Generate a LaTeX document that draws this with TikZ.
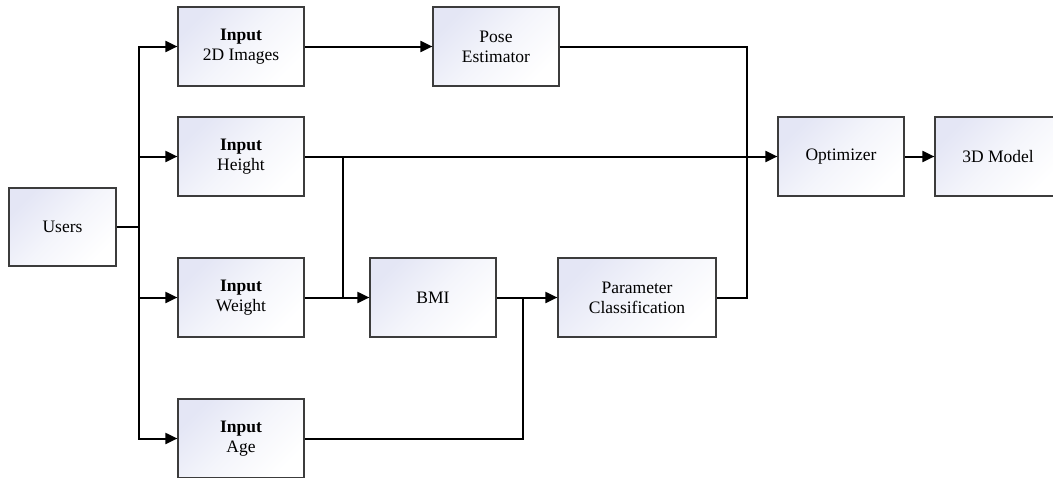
\documentclass[tikz,border=0pt]{standalone}
\usepackage{fontspec}
\setmainfont{Liberation Serif}
\newfontfamily\boxfont{Liberation Serif}
\usetikzlibrary{arrows.meta}
\definecolor{topc}{RGB}{228,230,245}
\definecolor{midc}{RGB}{244,245,251}
\definecolor{edgec}{RGB}{60,60,60}
\tikzset{
  box/.style={draw=edgec, line width=1.2pt, inner sep=0pt, align=center,
    minimum width=126pt, minimum height=79pt,
    top color=topc, bottom color=white, middle color=midc, shading angle=45,
    font=\boxfont\fontsize{17.5}{20}\selectfont},
  conn/.style={line width=2pt, black},
  arr/.style={conn, -{Triangle[length=12pt,width=11pt]}}
}
\begin{document}
\begin{tikzpicture}[x=1pt,y=-1pt]
\useasboundingbox (0,0) rectangle (1053,477);
\clip (0,0) rectangle (1053,477);
\node[box, minimum width=107pt, minimum height=78pt] (users) at (62.5,227) {Users};
\node[box] (img) at (241,46.5) {\textbf{Input}\\2D Images};
\node[box] (height) at (241,156.5) {\textbf{Input}\\Height};
\node[box] (weight) at (241,297.5) {\textbf{Input}\\Weight};
\node[box] (age) at (241,438.5) {\textbf{Input}\\Age};
\node[box] (pose) at (496,46.5) {Pose\\Estimator};
\node[box] (bmi) at (433,297.5) {BMI};
\node[box, minimum width=158pt] (param) at (637,297.5) {Parameter\\Classification};
\node[box] (opt) at (841,156.5) {Optimizer};
\node[box] (model) at (998,156.5) {3D Model};
\coordinate (bus) at (139,227);
\coordinate (j1) at (343,156.5);
\coordinate (j1b) at (343,297.5);
\coordinate (j2) at (523,297.5);
\coordinate (j3) at (747,297.5);
\draw[conn] (users.east) -- (bus);
\draw[arr] (bus) |- (img.west);
\draw[arr] (bus) |- (height.west);
\draw[arr] (bus) |- (weight.west);
\draw[arr] (bus) |- (age.west);
\draw[arr] (img.east) -- (pose.west);
\draw[arr] (height.east) -- (opt.west);
\draw[conn] (j1) -- (j1b);
\draw[arr] (weight.east) -- (bmi.west);
\draw[arr] (bmi.east) -- (param.west);
\draw[conn] (age.east) -| (j2);
\draw[conn] (pose.east) -| (j3) -- (param.east);
\draw[arr] (opt.east) -- (model.west);
\end{tikzpicture}
\end{document}
